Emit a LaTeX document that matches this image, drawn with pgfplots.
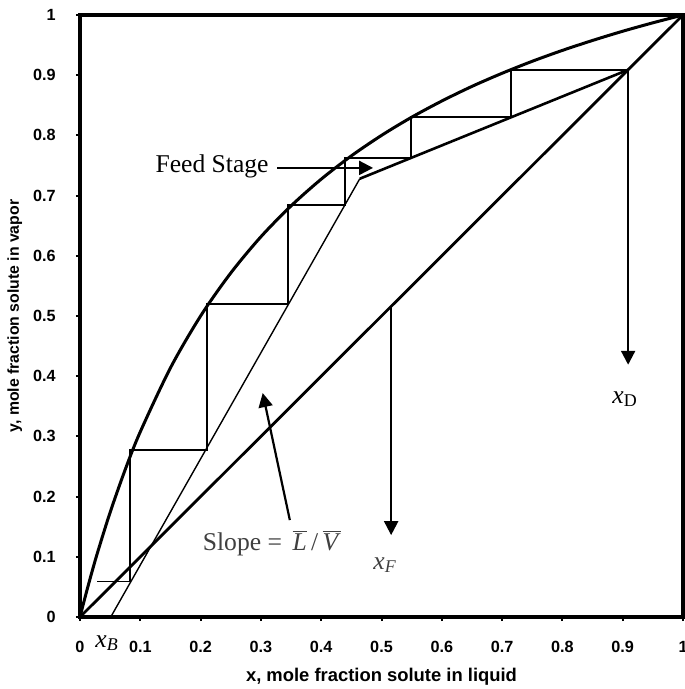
\documentclass[border=0pt]{standalone}
\usepackage{fontspec}
\setmainfont{Liberation Serif}
\setsansfont{Liberation Sans}
\usepackage{pgfplots}
\pgfplotsset{compat=1.18}
\usetikzlibrary{arrows.meta}

\tikzset{arr/.style={line width=1.1pt, -{Triangle[length=7pt,width=7pt]}}}
\newcommand{\lbl}{\sffamily\bfseries\fontsize{8.1}{9}\selectfont}
\newcommand{\ann}{\fontsize{12.8}{14}\selectfont}

\begin{document}
\begin{tikzpicture}
\useasboundingbox (-40pt,-36pt) rectangle (302pt,308.5pt);
\begin{axis}[
    scale only axis,
    width=301.5pt, height=301pt,
    xmin=0, xmax=1, ymin=0, ymax=1,
    xtick={0,0.1,0.2,0.3,0.4,0.5,0.6,0.7,0.8,0.9,1},
    ytick={0,0.1,0.2,0.3,0.4,0.5,0.6,0.7,0.8,0.9,1},
    xtick pos=left, ytick pos=left,
    tick align=outside,
    major tick length=2pt,
    every tick/.style={black, line width=1pt},
    axis line style={line width=1.6pt},
    /pgf/number format/assume math mode=true,
    ticklabel style={font=\lbl},
    xticklabel style={anchor=center, inner sep=0pt, yshift=-13pt},
    yticklabel style={anchor=east, inner sep=0pt, xshift=-10pt},
    xlabel={x, mole fraction solute in liquid},
    ylabel={y, mole fraction solute in vapor},
    xlabel style={font=\sffamily\bfseries\fontsize{9.2}{10}\selectfont,
      at={(axis description cs:0.5,-0.1)}, anchor=center},
    ylabel style={font=\sffamily\bfseries\fontsize{7.9}{9}\selectfont,
      at={(axis description cs:-0.108,0.5)}, anchor=center},
    clip=false,
]
% equilibrium curve
\addplot[smooth, line width=1.5pt] coordinates {
  (0,0) (0.01,0.0388) (0.02,0.0755) (0.03,0.1101) (0.05,0.1739)
  (0.075,0.2449) (0.1,0.3077) (0.15,0.4138) (0.2,0.5) (0.25,0.5714)
  (0.3,0.6316) (0.35,0.6829) (0.4,0.7273) (0.45,0.7660) (0.5,0.8)
  (0.55,0.8302) (0.6,0.8571) (0.65,0.8814) (0.7,0.9032) (0.75,0.9231)
  (0.8,0.9412) (0.85,0.9577) (0.9,0.9730) (0.95,0.9870) (1,1)};
% diagonal
\addplot[line width=1.4pt] coordinates {(0,0) (1,1)};
% rectifying operating line
\addplot[line width=1.3pt] coordinates {(0.909,0.909) (0.464,0.728)};
% stripping operating line
\addplot[line width=0.7pt] coordinates {(0.464,0.728) (0.051,0)};
% stages
\addplot[line width=0.9pt] coordinates {
  (0.909,0.909) (0.715,0.909) (0.715,0.830) (0.549,0.830) (0.549,0.762)
  (0.440,0.762) (0.440,0.685) (0.345,0.685) (0.345,0.520) (0.211,0.520)
  (0.211,0.278) (0.083,0.278) (0.083,0.059) (0.029,0.059)};
% x_D and x_F arrows
\addplot[arr] coordinates {(0.909,0.909) (0.909,0.419)};
\addplot[arr] coordinates {(0.516,0.516) (0.516,0.136)};

% annotations
\node[font=\ann] at (axis cs:0.219,0.748) {Feed Stage};
\draw[arr] (axis cs:0.327,0.746) -- (axis cs:0.486,0.746);
\node[font=\ann, text=black!75] at (axis cs:0.318,0.123)
  {Slope = \,$\overline{\mbox{\textit{L}}}$\,/\,$\overline{\mbox{\textit{V}}}$};
\draw[arr] (axis cs:0.348,0.161) -- (axis cs:0.303,0.372);
\node[font=\ann] at (axis cs:0.904,0.362) {\textit{x}\textsubscript{D}};
\node[font=\ann, text=black!75] at (axis cs:0.506,0.086) {\textit{x}\textsubscript{\textit{F}}};
\node[font=\ann] at (axis cs:0.045,0) [yshift=-13pt] {\textit{x}\textsubscript{\textit{B}}};
\end{axis}
\end{tikzpicture}
\end{document}
